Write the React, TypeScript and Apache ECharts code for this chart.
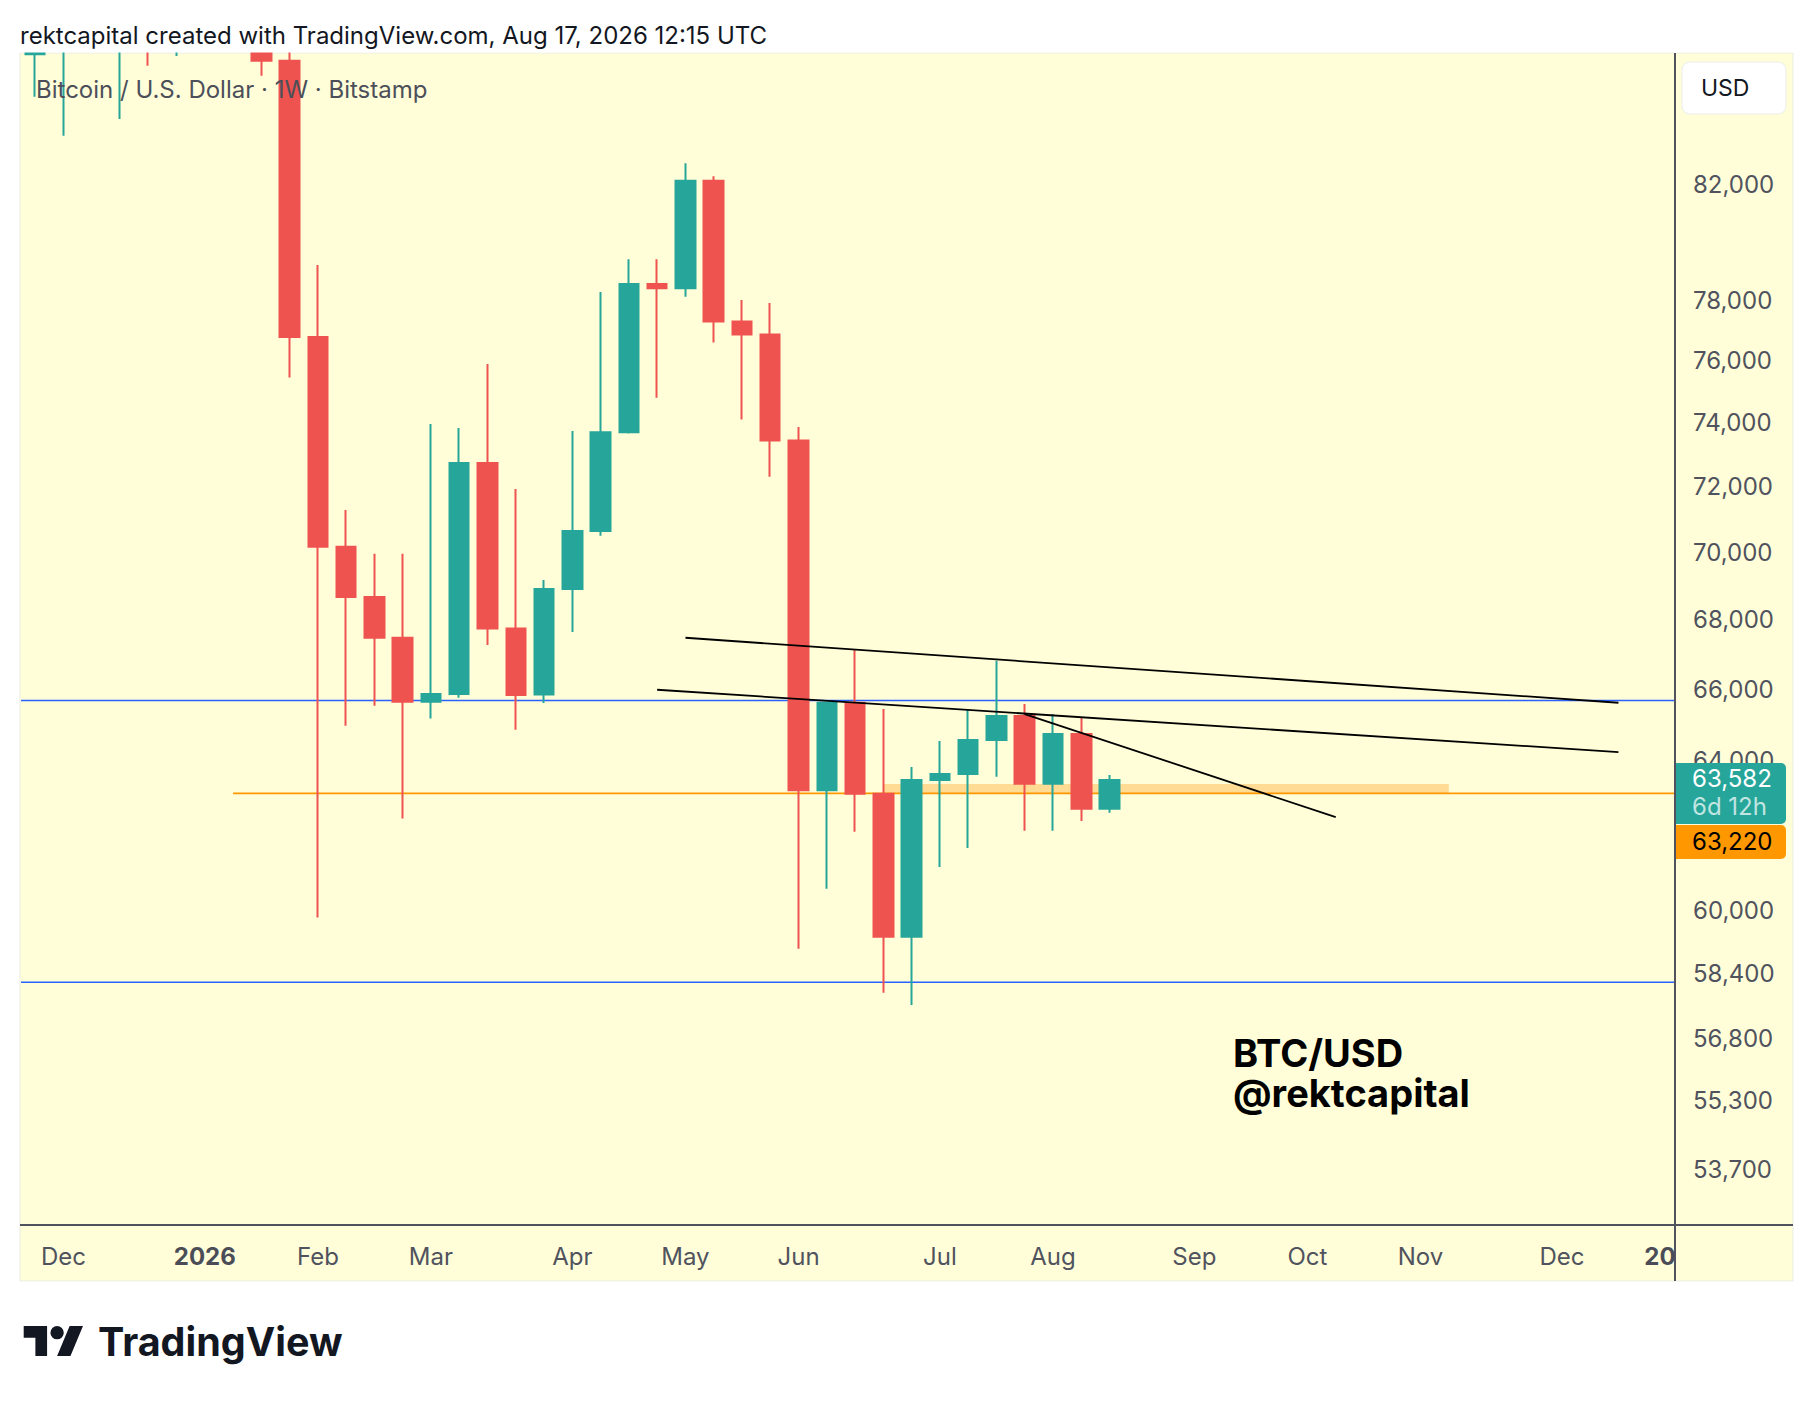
import React, { useEffect, useRef } from 'react';
import * as echarts from 'echarts';

// ---- Data (weekly BTC/USD, Bitstamp) ----
const weeks = [
  '2025-11-24', '2025-12-01', '2025-12-08', '2025-12-15', '2025-12-22', '2025-12-29',
  '2026-01-05', '2026-01-12', '2026-01-19', '2026-01-26', '2026-02-02', '2026-02-09',
  '2026-02-16', '2026-02-23', '2026-03-02', '2026-03-09', '2026-03-16', '2026-03-23',
  '2026-03-30', '2026-04-06', '2026-04-13', '2026-04-20', '2026-04-27', '2026-05-04',
  '2026-05-11', '2026-05-18', '2026-05-25', '2026-06-01', '2026-06-08', '2026-06-15',
  '2026-06-22', '2026-06-29', '2026-07-06', '2026-07-13', '2026-07-20', '2026-07-27',
  '2026-08-03', '2026-08-10', '2026-08-17',
];
const openPrices = [86847, 89650, 91650, 88650, 89950, 88150, 89150, 92650, 95650, 86609, 76913, 70284, 68782, 67589, 65759, 65973, 72859, 67859, 65962, 69018, 70761, 73832, 78685, 78545, 82253, 77429, 76998, 73567, 63299, 65728, 63207, 59441, 63580, 63744, 64683, 65353, 63479, 64851, 62801];
const highPrices = [91150, 93650, 94150, 91650, 90650, 90450, 94650, 97950, 96150, 88050, 79330, 71402, 70071, 70071, 74090, 73963, 76026, 72049, 69286, 73866, 78414, 79531, 79531, 82881, 82415, 78146, 78048, 73995, 65752, 67252, 65550, 63937, 64655, 65541, 66923, 65690, 65410, 65317, 63716];
const lowPrices = [85280, 83862, 88150, 84466, 86424, 86783, 87650, 91150, 86053, 75584, 59931, 65080, 65645, 62536, 65282, 65872, 67376, 64969, 65719, 67755, 70621, 73792, 74936, 78259, 76734, 74234, 72432, 59135, 60680, 62183, 58026, 57720, 61248, 61750, 63670, 62209, 62209, 62469, 62692];
const closePrices = [89650, 91650, 90350, 89950, 88350, 89150, 92650, 95650, 86609, 76913, 70284, 68782, 67589, 65759, 65973, 72859, 67859, 65945, 69018, 70761, 73832, 78685, 78545, 82253, 77429, 76998, 73567, 63299, 65728, 63207, 59441, 63580, 63744, 64683, 65353, 63479, 64851, 62801, 63582];

// x axis (week index) tick labels
const xTickIndex = [1, 6, 10, 14, 19, 23, 27, 32, 36, 41, 45, 49, 54, 58];
const xTickLabels = ['Dec', '2026', 'Feb', 'Mar', 'Apr', 'May', 'Jun', 'Jul', 'Aug', 'Sep', 'Oct', 'Nov', 'Dec', '20'];
const xRange = [-0.5, 58];

// y axis (log price) ticks
const yTicks = [82000, 78000, 76000, 74000, 72000, 70000, 68000, 66000, 64000, 60000, 58400, 56800, 55300, 53700];
const yRange = [52515, 86898];

// Drawings
const blueLevels = [65790, 58290];
const orangeLevel = 63220;
const orangeStartIndex = 7;
const zoneIndex = [30, 50];
const zonePrice = [63220, 63470];
const trendLines = [
  [23, 67589, 56, 65728],
  [22, 66096, 56, 64349],
  [35, 65409, 46, 62576],
];
const lastPrice = 63582;
const timeLeft = '6d 12h';

// ---- Styles ----
const TEAL = '#26a69a';
const RED = '#ef5350';
const BLUE = '#2962ff';
const ORANGE = '#ff9800';
const BG = '#fffed9';
const AXIS_TEXT = '#50535e';
const FONT = 'Inter, "Noto Sans", sans-serif';

const LOGO_D = 'M14 22H7V11H0V4h14v18zM28 22h-8l7.5-18h8L28 22zM20 12a4 4 0 1 0 0-8a4 4 0 1 0 0 8z';
let logoRegistered = false;

const L = Math.log;

export default function App() {
  const ref = useRef<HTMLDivElement>(null);

  useEffect(() => {
    document.body.style.margin = '0';
    if (!logoRegistered) {
      echarts.graphic.registerShape('tvlogo', echarts.graphic.extendPath(LOGO_D, {}) as any);
      logoRegistered = true;
    }
    const chart = echarts.init(ref.current as HTMLDivElement, undefined, { renderer: 'svg' });

    const candleData = weeks.map((_, i) => [i, L(openPrices[i]), L(closePrices[i]), L(lowPrices[i]), L(highPrices[i])]);

    const option: any = {
      animation: false,
      backgroundColor: 'transparent',
      grid: { left: 21, right: 139, top: 53, bottom: 177, containLabel: false },
      xAxis: {
        type: 'value',
        min: xRange[0],
        max: xRange[1],
        axisLine: { show: false },
        axisTick: { show: false },
        splitLine: { show: false },
        axisLabel: {
          customValues: xTickIndex,
          margin: 19,
          fontSize: 24,
          fontFamily: FONT,
          color: AXIS_TEXT,
          formatter: (v: number) => {
            const k = xTickIndex.indexOf(Math.round(v));
            if (k < 0) return '';
            const t = xTickLabels[k];
            if (k === 1) return '{b|' + t + '}';
            if (k === xTickIndex.length - 1) return '{r|' + t + '}';
            return t;
          },
          rich: {
            b: { fontSize: 24, fontFamily: FONT, fontWeight: 'bold', color: '#4a4d57' },
            r: { fontSize: 24, fontFamily: FONT, fontWeight: 'bold', color: '#4a4d57', padding: [0, 30, 0, 0] },
          },
        },
      },
      yAxis: {
        type: 'value',
        position: 'right',
        min: L(yRange[0]),
        max: L(yRange[1]),
        axisLine: { show: false },
        axisTick: { show: false },
        splitLine: { show: false },
        axisLabel: {
          customValues: yTicks.map(L),
          align: 'left',
          verticalAlign: 'bottom',
          lineHeight: 8,
          margin: 18,
          fontSize: 24,
          fontFamily: FONT,
          color: AXIS_TEXT,
          formatter: (v: number) => (Math.round(Math.exp(v) / 100) * 100).toLocaleString('en-US'),
        },
      },
      series: [
        {
          type: 'line',
          data: [],
          z: 1,
          silent: true,
          markArea: {
            silent: true,
            z: 1,
            itemStyle: { color: 'rgba(255,183,77,0.5)' },
            data: [[{ coord: [zoneIndex[0], L(zonePrice[0])] }, { coord: [zoneIndex[1], L(zonePrice[1])] }]],
          },
        },
        ...blueLevels.map((v) => ({
          type: 'line',
          z: 2,
          silent: true,
          symbol: 'none',
          lineStyle: { color: BLUE, width: 1.6 },
          data: [[xRange[0], L(v)], [xRange[1], L(v)]],
        })),
        {
          type: 'line',
          z: 2,
          silent: true,
          symbol: 'none',
          lineStyle: { color: ORANGE, width: 1.8 },
          data: [[orangeStartIndex, L(orangeLevel)], [xRange[1], L(orangeLevel)]],
        },
        {
          type: 'candlestick',
          z: 4,
          silent: true,
          barWidth: 20,
          itemStyle: { color: TEAL, color0: RED, borderColor: TEAL, borderColor0: RED, borderWidth: 2 },
          data: candleData,
        },
        ...trendLines.map((t) => ({
          type: 'line',
          z: 6,
          silent: true,
          symbol: 'none',
          lineStyle: { color: '#000000', width: 1.8 },
          data: [[t[0], L(t[1])], [t[2], L(t[3])]],
        })),
      ],
    };
    chart.setOption(option);

    const yLast = chart.convertToPixel({ yAxisIndex: 0 }, L(lastPrice)) as number;
    const tagTop = yLast - 17;

    const text = (t: string, x: number, y: number, size: number, color: string, weight: any = 'normal', z = 40, extra: any = {}) => ({
      type: 'text',
      x,
      y,
      z,
      style: { text: t, fontSize: size, fontFamily: FONT, fontWeight: weight, fill: color, align: 'left', verticalAlign: 'middle', ...extra },
    });

    const elements: any[] = [
      {
        type: 'rect',
        z: -100,
        shape: { x: 20, y: 53, width: 1773, height: 1228 },
        style: { fill: BG, stroke: '#ebebe4', lineWidth: 1 },
      },
      // mask above the price pane (hides candle parts above the pane top)
      { type: 'rect', z: 30, shape: { x: 0, y: 0, width: 1814, height: 52.5 }, style: { fill: '#ffffff' } },
      { type: 'line', z: 8, shape: { x1: 1675, y1: 53, x2: 1675, y2: 1281 }, style: { stroke: '#50535e', lineWidth: 2 } },
      { type: 'line', z: 8, shape: { x1: 20, y1: 1225, x2: 1793, y2: 1225 }, style: { stroke: '#50535e', lineWidth: 2 } },
      text('rektcapital created with TradingView.com, Aug 17, 2026 12:15 UTC', 20, 35, 24, '#131722'),
      text('Bitcoin / U.S. Dollar · 1W · Bitstamp', 36, 89.5, 24, '#4c4f59'),
      {
        type: 'rect',
        z: 10,
        shape: { x: 1682, y: 62, width: 104, height: 52, r: 8 },
        style: { fill: '#ffffff', stroke: '#ececec', lineWidth: 1 },
      },
      text('USD', 1701, 88, 23, '#131722', 'normal', 11),
      text('BTC/USD\n@rektcapital', 1233, 1073, 38, '#000000', 'bold', 40, { lineHeight: 40 }),
      {
        type: 'tvlogo',
        z: 10,
        x: 23.7,
        y: 1319.3,
        scaleX: 1.67,
        scaleY: 1.67,
        style: { fill: '#131722' },
      },
      text('TradingView', 98, 1341.5, 39.5, '#131722', 'bold'),
      {
        type: 'rect',
        z: 20,
        shape: { x: 1676, y: tagTop, width: 110, height: 61, r: [0, 5, 5, 0] },
        style: { fill: TEAL },
      },
      text(lastPrice.toLocaleString('en-US'), 1692, tagTop + 15.5, 24, '#ffffff', 'normal', 21),
      text(timeLeft, 1692, tagTop + 44, 24, 'rgba(255,255,255,0.72)', 'normal', 21),
      {
        type: 'rect',
        z: 20,
        shape: { x: 1676, y: tagTop + 62, width: 110, height: 34, r: [0, 5, 5, 0] },
        style: { fill: ORANGE },
      },
      text(orangeLevel.toLocaleString('en-US'), 1692, tagTop + 79, 24, '#000000', 'normal', 21),
    ];
    chart.setOption({ graphic: { elements } });

    return () => chart.dispose();
  }, []);

  return <div ref={ref} style={{ width: 1814, height: 1402, background: '#ffffff' }} />;
}
